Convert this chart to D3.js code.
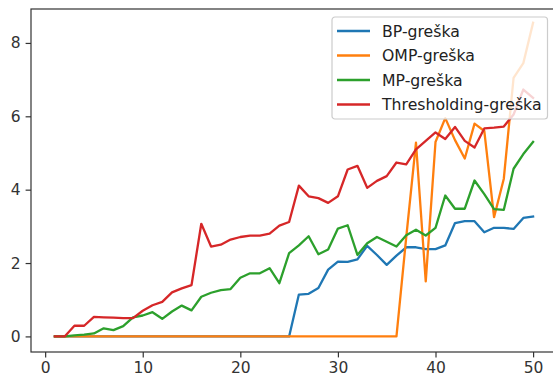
<!DOCTYPE html>
<html lang="en">
<head>
    <meta charset="UTF-8">
    <title>Greška</title>
    <style type="text/css">
        * {
            margin: 0;
            padding: 0;
        }

        body {
            background: #fff;
        }

        #chart-area {
            width: 553px;
            height: 380px;
            overflow: hidden;
        }
    </style>
</head>
<body>
<div id="chart-area"></div>
<script src="https://cdn.jsdelivr.net/npm/d3@7"></script>
<script type="text/javascript">

  const WIDTH = 553
  const HEIGHT = 380
  const FONT = '"DejaVu Sans", sans-serif'

  const xs = [1, 2, 3, 4, 5, 6, 7, 8, 9, 10, 11, 12, 13, 14, 15, 16, 17, 18, 19, 20,
    21, 22, 23, 24, 25, 26, 27, 28, 29, 30, 31, 32, 33, 34, 35, 36, 37, 38, 39, 40,
    41, 42, 43, 44, 45, 46, 47, 48, 49, 50]

  const bp = [0, 0, 0, 0, 0, 0, 0, 0, 0, 0, 0, 0, 0, 0, 0, 0, 0, 0, 0, 0,
    0, 0, 0, 0, 0, 1.14, 1.16, 1.32, 1.82, 2.04, 2.03, 2.1, 2.47, 2.22, 1.95, 2.2, 2.43, 2.43, 2.38, 2.38,
    2.48, 3.09, 3.14, 3.14, 2.84, 2.96, 2.96, 2.93, 3.23, 3.27]

  const omp = [0, 0, 0, 0, 0, 0, 0, 0, 0, 0, 0, 0, 0, 0, 0, 0, 0, 0, 0, 0,
    0, 0, 0, 0, 0, 0, 0, 0, 0, 0, 0, 0, 0, 0, 0, 0, 2.7, 5.28, 1.5, 5.3,
    5.95, 5.35, 4.85, 5.8, 5.6, 3.25, 4.3, 7.05, 7.45, 8.55]

  const mp = [0, 0, 0.03, 0.05, 0.08, 0.22, 0.17, 0.28, 0.52, 0.57, 0.66, 0.48, 0.68, 0.84, 0.71, 1.08, 1.19, 1.26, 1.29, 1.6,
    1.72, 1.72, 1.86, 1.45, 2.27, 2.48, 2.73, 2.24, 2.37, 2.94, 3.03, 2.22, 2.54, 2.71, 2.58, 2.45, 2.76, 2.91, 2.75, 2.96,
    3.84, 3.48, 3.48, 4.25, 3.88, 3.47, 3.45, 4.57, 4.97, 5.3]

  const thr = [0, 0, 0.29, 0.29, 0.53, 0.52, 0.51, 0.5, 0.5, 0.7, 0.85, 0.94, 1.2, 1.31, 1.4, 3.07, 2.45, 2.5, 2.64, 2.71,
    2.75, 2.75, 2.8, 3.02, 3.12, 4.11, 3.82, 3.77, 3.64, 3.82, 4.55, 4.65, 4.05, 4.24, 4.37, 4.74, 4.69, 5.1, 5.33, 5.56,
    5.38, 5.71, 5.33, 5.15, 5.67, 5.69, 5.72, 6.05, 6.73, 6.5]

  const labels = ['BP-greška', 'OMP-greška', 'MP-greška', 'Thresholding-greška']
  const xTicks = [0, 10, 20, 30, 40, 50]
  const yTicks = [0, 2, 4, 6, 8]

  const series = [bp, omp, mp, thr]
  const color = d3.scaleOrdinal()
      .domain(labels)
      .range(['#1f77b4', '#ff7f0e', '#2ca02c', '#d62728'])

  const svg = d3.select('#chart-area').append('svg')
      .attr('width', WIDTH)
      .attr('height', HEIGHT)

  // plot area runs past the right edge of the picture
  const plotLeft = 31, plotRight = 557, plotTop = 9, plotBottom = 352

  const x = d3.scaleLinear().domain([-1.45, 52.45]).range([plotLeft, plotRight])
  const y = d3.scaleLinear().domain([-0.425, 8.925]).range([plotBottom, plotTop])

  const line = d3.line()
      .x((d, i) => x(xs[i]))
      .y((d) => y(d))

  svg.append('g')
      .selectAll('path')
      .data(series)
      .enter()
      .append('path')
      .attr('d', line)
      .attr('fill', 'none')
      .attr('stroke', (d, i) => color(labels[i]))
      .attr('stroke-width', 2.3)
      .attr('stroke-linejoin', 'round')
      .attr('stroke-linecap', 'square')

  // axes
  const xAxis = svg.append('g')
      .attr('transform', `translate(0, ${plotBottom})`)
      .call(d3.axisBottom(x).tickValues(xTicks).tickSize(5.4).tickPadding(5))
  const yAxis = svg.append('g')
      .attr('transform', `translate(${plotLeft}, 0)`)
      .call(d3.axisLeft(y).tickValues(yTicks).tickSize(5.4).tickPadding(5))

  for (const ax of [xAxis, yAxis]) {
    ax.select('.domain').remove()
    ax.selectAll('line').attr('stroke', '#333').attr('stroke-width', 1.2)
    ax.selectAll('text')
        .attr('fill', '#333')
        .style('font-family', FONT)
        .style('font-size', '15.5px')
  }

  svg.append('rect')
      .attr('x', plotLeft)
      .attr('y', plotTop)
      .attr('width', plotRight - plotLeft)
      .attr('height', plotBottom - plotTop)
      .attr('fill', 'none')
      .attr('stroke', '#333')
      .attr('stroke-width', 1.2)

  // legend
  const legend = svg.append('g').attr('transform', 'translate(332, 17)')
  legend.append('rect')
      .attr('width', 215.5)
      .attr('height', 102)
      .attr('rx', 3)
      .attr('fill', 'white')
      .attr('fill-opacity', 0.8)
      .attr('stroke', '#cccccc')
      .attr('stroke-width', 1.2)

  const item = legend.selectAll('.item')
      .data(labels)
      .enter()
      .append('g')
      .attr('transform', (d, i) => `translate(0, ${14 + i * 24.5})`)

  item.append('line')
      .attr('x1', 5)
      .attr('x2', 38)
      .attr('stroke', (d) => color(d))
      .attr('stroke-width', 2.3)

  item.append('text')
      .attr('x', 50)
      .attr('dy', '0.36em')
      .attr('fill', '#222')
      .style('font-family', FONT)
      .style('font-size', '15.7px')
      .text((d) => d)

</script>
</body>
</html>
